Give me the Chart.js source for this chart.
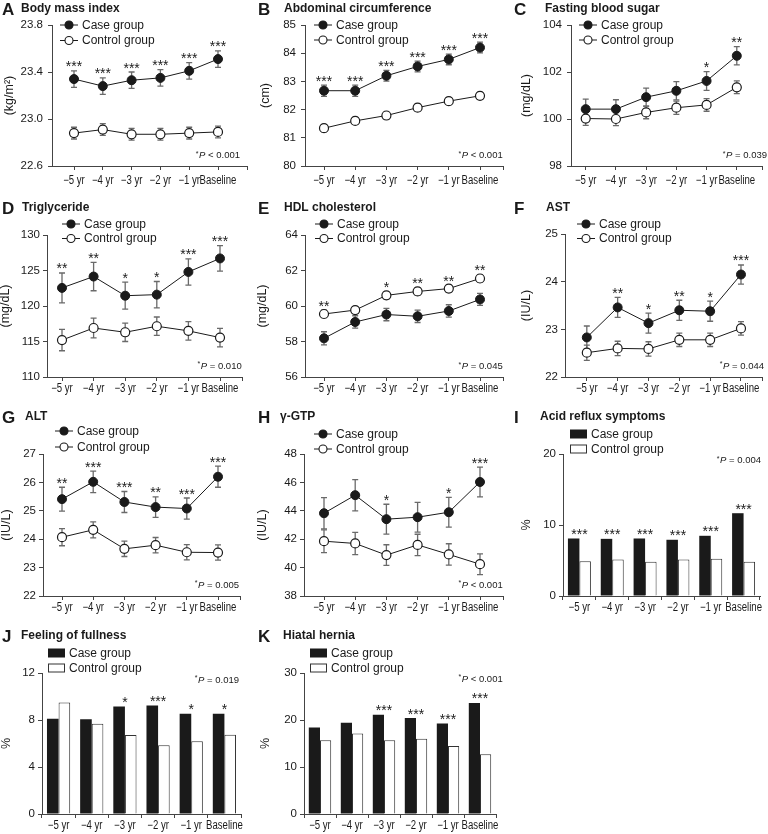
<!DOCTYPE html>
<html><head><meta charset="utf-8">
<script src="https://cdn.jsdelivr.net/npm/chart.js@4.4.1/dist/chart.umd.min.js"></script>
<style>
html,body{margin:0;padding:0;background:#fff;}
#wrap{position:relative;width:768px;height:834px;overflow:hidden;background:#fff;}
#wrap canvas{position:absolute;}
</style>
</head><body><div id="wrap"></div>
<script>
// ---------------- DATA ----------------
const categories = ['\u22125 yr', '\u22124 yr', '\u22123 yr', '\u22122 yr', '\u22121 yr', 'Baseline'];

// A Body mass index
const bmiCase = [23.34, 23.28, 23.33, 23.35, 23.41, 23.51];
const bmiCaseSE = [0.07, 0.07, 0.07, 0.07, 0.07, 0.07];
const bmiCtrl = [22.88, 22.91, 22.87, 22.87, 22.88, 22.89];
const bmiCtrlSE = [0.05, 0.05, 0.05, 0.05, 0.05, 0.05];
const bmiSig = ['***', '***', '***', '***', '***', '***'];
const bmiTicks = [22.6, 23.0, 23.4, 23.8];
const bmiP = '< 0.001';

// B Abdominal circumference
const acCase = [82.67, 82.67, 83.2, 83.53, 83.78, 84.2];
const acCaseSE = [0.2, 0.2, 0.19, 0.19, 0.19, 0.19];
const acCtrl = [81.34, 81.6, 81.79, 82.07, 82.3, 82.49];
const acCtrlSE = [0.13, 0.12, 0.12, 0.12, 0.12, 0.12];
const acSig = ['***', '***', '***', '***', '***', '***'];
const acTicks = [80, 81, 82, 83, 84, 85];
const acP = '< 0.001';

// C Fasting blood sugar
const fbsCase = [100.42, 100.42, 100.93, 101.2, 101.62, 102.69];
const fbsCaseSE = [0.43, 0.4, 0.38, 0.39, 0.4, 0.39];
const fbsCtrl = [100.02, 100.0, 100.28, 100.48, 100.6, 101.35];
const fbsCtrlSE = [0.29, 0.28, 0.27, 0.28, 0.27, 0.27];
const fbsSig = ['', '', '', '', '*', '**'];
const fbsTicks = [98, 100, 102, 104];
const fbsP = '= 0.039';

// D Triglyceride
const tgCase = [122.55, 124.15, 121.45, 121.6, 124.8, 126.7];
const tgCaseSE = [2.1, 2.0, 1.9, 1.85, 1.85, 1.8];
const tgCtrl = [115.2, 116.9, 116.3, 117.15, 116.5, 115.55];
const tgCtrlSE = [1.5, 1.4, 1.3, 1.3, 1.3, 1.3];
const tgSig = ['**', '**', '*', '*', '***', '***'];
const tgTicks = [110, 115, 120, 125, 130];
const tgP = '= 0.010';

// E HDL cholesterol
const hdlCase = [58.18, 59.1, 59.52, 59.42, 59.72, 60.37];
const hdlCaseSE = [0.37, 0.35, 0.35, 0.35, 0.35, 0.34];
const hdlCtrl = [59.55, 59.77, 60.6, 60.82, 60.98, 61.55];
const hdlCtrlSE = [0.21, 0.2, 0.2, 0.2, 0.2, 0.2];
const hdlSig = ['**', '', '*', '**', '**', '**'];
const hdlTicks = [56, 58, 60, 62, 64];
const hdlP = '= 0.045';

// F AST
const astCase = [22.83, 23.46, 23.13, 23.40, 23.38, 24.15];
const astCaseSE = [0.24, 0.21, 0.21, 0.21, 0.21, 0.2];
const astCtrl = [22.51, 22.60, 22.59, 22.78, 22.78, 23.02];
const astCtrlSE = [0.16, 0.15, 0.15, 0.14, 0.14, 0.14];
const astSig = ['', '**', '*', '**', '*', '***'];
const astTicks = [22, 23, 24, 25];
const astP = '= 0.044';

// G ALT
const altCase = [25.41, 26.02, 25.31, 25.13, 25.08, 26.2];
const altCaseSE = [0.42, 0.38, 0.37, 0.36, 0.37, 0.37];
const altCtrl = [24.07, 24.33, 23.66, 23.79, 23.54, 23.53];
const altCtrlSE = [0.3, 0.28, 0.27, 0.27, 0.27, 0.27];
const altSig = ['**', '***', '***', '**', '***', '***'];
const altTicks = [22, 23, 24, 25, 26, 27];
const altP = '= 0.005';

// H gamma-GTP
const gtpCase = [43.83, 45.1, 43.41, 43.55, 43.9, 46.03];
const gtpCaseSE = [1.1, 1.1, 1.05, 1.05, 1.05, 1.05];
const gtpCtrl = [41.86, 41.7, 40.88, 41.6, 40.93, 40.24];
const gtpCtrlSE = [0.8, 0.78, 0.73, 0.75, 0.75, 0.73];
const gtpSig = ['', '', '*', '', '*', '***'];
const gtpTicks = [38, 40, 42, 44, 46, 48];
const gtpP = '< 0.001';

// I Acid reflux symptoms (%)
const refluxCase = [8.1, 8.05, 8.1, 7.92, 8.48, 11.66];
const refluxCtrl = [4.9, 5.15, 4.82, 5.15, 5.25, 4.82];
const refluxSig = ['***', '***', '***', '***', '***', '***'];
const refluxTicks = [0, 10, 20];
const refluxP = '= 0.004';

// J Feeling of fullness (%)
const fullCase = [8.1, 8.07, 9.15, 9.24, 8.53, 8.53];
const fullCtrl = [9.49, 7.68, 6.72, 5.85, 6.19, 6.75];
const fullSig = ['', '', '*', '***', '*', '*'];
const fullTicks = [0, 4, 8, 12];
const fullP = '= 0.019';

// K Hiatal hernia (%)
const herniaCase = [18.4, 19.4, 21.1, 20.4, 19.26, 23.64];
const herniaCtrl = [15.67, 17.15, 15.67, 16.0, 14.46, 12.7];
const herniaSig = ['', '', '***', '***', '***', '***'];
const herniaTicks = [0, 10, 20, 30];
const herniaP = '< 0.001';

// ---------------- PANELS ----------------
const panels = [
  {type:'line', letter:'A', title:'Body mass index', yTitle:'(kg/m\u00B2)', yTicks:bmiTicks, dec:1, caseV:bmiCase, caseE:bmiCaseSE, ctrlV:bmiCtrl, ctrlE:bmiCtrlSE, sig:bmiSig, pText:bmiP},
  {type:'line', letter:'B', title:'Abdominal circumference', yTitle:'(cm)', yTicks:acTicks, dec:0, caseV:acCase, caseE:acCaseSE, ctrlV:acCtrl, ctrlE:acCtrlSE, sig:acSig, pText:acP},
  {type:'line', letter:'C', title:'Fasting blood sugar', yTitle:'(mg/dL)', yTicks:fbsTicks, dec:0, caseV:fbsCase, caseE:fbsCaseSE, ctrlV:fbsCtrl, ctrlE:fbsCtrlSE, sig:fbsSig, pText:fbsP},
  {type:'line', letter:'D', title:'Triglyceride', yTitle:'(mg/dL)', yTicks:tgTicks, dec:0, caseV:tgCase, caseE:tgCaseSE, ctrlV:tgCtrl, ctrlE:tgCtrlSE, sig:tgSig, pText:tgP},
  {type:'line', letter:'E', title:'HDL cholesterol', yTitle:'(mg/dL)', yTicks:hdlTicks, dec:0, caseV:hdlCase, caseE:hdlCaseSE, ctrlV:hdlCtrl, ctrlE:hdlCtrlSE, sig:hdlSig, pText:hdlP},
  {type:'line', letter:'F', title:'AST', yTitle:'(IU/L)', yTicks:astTicks, dec:0, caseV:astCase, caseE:astCaseSE, ctrlV:astCtrl, ctrlE:astCtrlSE, sig:astSig, pText:astP},
  {type:'line', letter:'G', title:'ALT', yTitle:'(IU/L)', yTicks:altTicks, dec:0, caseV:altCase, caseE:altCaseSE, ctrlV:altCtrl, ctrlE:altCtrlSE, sig:altSig, pText:altP},
  {type:'line', letter:'H', title:'\u03B3-GTP', yTitle:'(IU/L)', yTicks:gtpTicks, dec:0, caseV:gtpCase, caseE:gtpCaseSE, ctrlV:gtpCtrl, ctrlE:gtpCtrlSE, sig:gtpSig, pText:gtpP},
  {type:'bar', letter:'I', title:'Acid reflux symptoms', yTitle:'%', yTicks:refluxTicks, dec:0, caseV:refluxCase, ctrlV:refluxCtrl, sig:refluxSig, pText:refluxP},
  {type:'bar', letter:'J', title:'Feeling of fullness', yTitle:'%', yTicks:fullTicks, dec:0, caseV:fullCase, ctrlV:fullCtrl, sig:fullSig, pText:fullP},
  {type:'bar', letter:'K', title:'Hiatal hernia', yTitle:'%', yTicks:herniaTicks, dec:0, caseV:herniaCase, ctrlV:herniaCtrl, sig:herniaSig, pText:herniaP}
];

// layout (page pixel geometry, separate from data)
const layouts = {
  A:{box:[0,0,256,205],     area:[52,25,247,166],  x0:74,  x5:218, xpad:5, ypad:5, title:[2,21,9],     ytx:10,  legend:[69,25,40.5],   p:[240,155.7]},
  B:{box:[256,0,256,205],   area:[305,25,503,166], x0:324, x5:480, xpad:5, ypad:5, title:[258,284,9],  ytx:266, legend:[323,25,40],    p:[502.7,155.7]},
  C:{box:[512,0,256,205],   area:[571,25,766,166], x0:586, x5:740, xpad:5, ypad:5, title:[514,545,9],  ytx:527, legend:[588,25,40],    p:[767,155.7]},
  D:{box:[0,195,256,220],   area:[47,235,242,377], x0:62,  x5:220, xpad:2, ypad:3, title:[2,22,208],   ytx:6,   legend:[71,224,238.5], p:[241.7,366]},
  E:{box:[256,195,256,220], area:[305,235,503,377],x0:324, x5:480, xpad:2, ypad:3, title:[258,284,208], ytx:263, legend:[324,224,238.5],p:[502.7,366.7]},
  F:{box:[512,195,256,220], area:[565,234,764,377],x0:587, x5:742.5,xpad:2,ypad:3, title:[514,546,208], ytx:527, legend:[586,224,238.5],p:[764,366]},
  G:{box:[0,403,256,222],   area:[43,454,240,596], x0:62,  x5:218, xpad:2, ypad:3, title:[2,25,417],   ytx:7,   legend:[64,431,447],   p:[239,585]},
  H:{box:[256,403,256,222], area:[304,454,503,596],x0:324, x5:480, xpad:2, ypad:3, title:[258,280,417], ytx:263, legend:[323,434,449],  p:[502.7,585]},
  I:{box:[512,403,256,222], area:[563,454,760,596], xpad:2, ypad:3, title:[514,540,417], ytx:527, legend:[570,434,449], p:[761,460.7]},
  J:{box:[0,620,256,214],   area:[42,673,241,814],  xpad:2, ypad:3, title:[2,21,636],    ytx:7,   legend:[48,653,668],  p:[239,680]},
  K:{box:[256,620,256,214], area:[304,673,496,814], xpad:2, ypad:3, title:[258,283,636], ytx:266, legend:[310,653,668], p:[502.7,679]}
};

// ---------------- RENDER ----------------
const FONT = '"Liberation Sans", Arial, Helvetica, sans-serif';
const INK = '#1a1a1a', AXIS = '#444', ERR = '#6a6a6a';
const XSIZE = 12, XSQUEEZE = 0.8;   // condensed category labels
Chart.defaults.font.family = FONT;
Chart.defaults.color = INK;

function addCanvas(box) {
  const c = document.createElement('canvas');
  c.width = box[2]; c.height = box[3];
  c.style.left = box[0] + 'px'; c.style.top = box[1] + 'px';
  c.style.width = box[2] + 'px'; c.style.height = box[3] + 'px';
  document.getElementById('wrap').appendChild(c);
  return c;
}

const errorBars = {
  id: 'errorBars',
  beforeDatasetsDraw(chart) {
    const ctx = chart.ctx, xs = chart.scales.x, ys = chart.scales.y;
    ctx.save();
    ctx.strokeStyle = ERR; ctx.lineWidth = 1.3;
    chart.data.datasets.forEach(ds => {
      if (!ds.err) return;
      ds.data.forEach((pt, i) => {
        const px = xs.getPixelForValue(pt.x);
        const t = ys.getPixelForValue(pt.y + ds.err[i]);
        const b = ys.getPixelForValue(pt.y - ds.err[i]);
        ctx.beginPath();
        ctx.moveTo(px, t); ctx.lineTo(px, b);
        ctx.moveTo(px - 3, t); ctx.lineTo(px + 3, t);
        ctx.moveTo(px - 3, b); ctx.lineTo(px + 3, b);
        ctx.stroke();
      });
    });
    ctx.restore();
  }
};

function drawP(ctx, txt, rx, cy) {
  const fMain = '9.5px ' + FONT, fIt = 'italic 9.5px ' + FONT, fSup = '7px ' + FONT;
  ctx.font = fMain; const w3 = ctx.measureText(' ' + txt).width;
  ctx.font = fIt; const w2 = ctx.measureText('P').width;
  ctx.font = fSup; const w1 = ctx.measureText('*').width + 0.5;
  let x = rx - (w1 + w2 + w3);
  ctx.textAlign = 'left'; ctx.textBaseline = 'middle';
  ctx.font = fSup; ctx.fillText('*', x, cy - 2);
  ctx.font = fIt; ctx.fillText('P', x + w1, cy);
  ctx.font = fMain; ctx.fillText(' ' + txt, x + w1 + w2, cy);
}

function decor(p, L) {
  return {
    id: 'decor',
    afterDraw(chart) {
      const ctx = chart.ctx, ox = L.box[0], oy = L.box[1];
      const ca = chart.chartArea, xs = chart.scales.x, ys = chart.scales.y;
      ctx.save();
      ctx.fillStyle = INK; ctx.textAlign = 'left'; ctx.textBaseline = 'middle';
      // letter + title
      ctx.font = 'bold 17px ' + FONT;
      ctx.fillText(p.letter, L.title[0] - ox, L.title[2] - oy + 1);
      ctx.font = 'bold 12px ' + FONT;
      ctx.fillText(p.title, L.title[1] - ox, L.title[2] - oy);
      // category labels (condensed), positioned by the x scale
      ctx.font = XSIZE + 'px ' + FONT; ctx.textAlign = 'center'; ctx.textBaseline = 'top';
      categories.forEach((c, i) => {
        ctx.save();
        ctx.translate(xs.getPixelForValue(i), ca.bottom + 4 + L.xpad);
        ctx.scale(XSQUEEZE, 1);
        ctx.fillText(c, 0, 0);
        ctx.restore();
      });
      // y title
      ctx.save();
      ctx.translate(L.ytx - ox, (ca.top + ca.bottom) / 2);
      ctx.rotate(-Math.PI / 2);
      ctx.textAlign = 'center'; ctx.textBaseline = 'middle';
      ctx.font = '12.5px ' + FONT;
      ctx.fillText(p.yTitle, 0, 0);
      ctx.restore();
      // legend
      ctx.textAlign = 'left'; ctx.textBaseline = 'middle';
      const names = ['Case group', 'Control group'];
      const ys2 = [L.legend[1] - oy, L.legend[2] - oy];
      ctx.font = '12px ' + FONT;
      if (p.type === 'line') {
        const cx = L.legend[0] - ox;
        for (let k = 0; k < 2; k++) {
          ctx.strokeStyle = INK; ctx.lineWidth = 1;
          ctx.beginPath(); ctx.moveTo(cx - 9, ys2[k]); ctx.lineTo(cx + 9, ys2[k]); ctx.stroke();
          ctx.beginPath(); ctx.arc(cx, ys2[k], 4, 0, Math.PI * 2);
          ctx.fillStyle = k === 0 ? INK : '#fff'; ctx.fill();
          ctx.lineWidth = 1.1; ctx.stroke();
          ctx.fillStyle = INK;
          ctx.fillText(names[k], cx + 13, ys2[k] + 0.5);
        }
      } else {
        const lx = L.legend[0] - ox;
        for (let k = 0; k < 2; k++) {
          if (k === 0) { ctx.fillStyle = INK; ctx.fillRect(lx, ys2[k] - 4.5, 17, 9); }
          else { ctx.fillStyle = '#fff'; ctx.fillRect(lx, ys2[k] - 4.5, 17, 9); ctx.strokeStyle = '#333'; ctx.lineWidth = 1; ctx.strokeRect(lx + 0.5, ys2[k] - 4, 16, 8); }
          ctx.fillStyle = INK;
          ctx.fillText(names[k], lx + 21, ys2[k] + 0.5);
        }
      }
      // significance marks
      ctx.font = '14px ' + FONT; ctx.textAlign = 'center'; ctx.textBaseline = 'alphabetic'; ctx.fillStyle = INK;
      p.sig.forEach((s, i) => {
        if (!s) return;
        let top;
        if (p.type === 'line') {
          top = Math.min(ys.getPixelForValue(p.caseV[i] + p.caseE[i]), ys.getPixelForValue(p.ctrlV[i] + p.ctrlE[i]));
        } else {
          top = Math.min(ys.getPixelForValue(p.caseV[i]), ys.getPixelForValue(p.ctrlV[i]));
        }
        ctx.fillText(s, xs.getPixelForValue(i), top + 0.5);
      });
      // p value
      drawP(ctx, p.pText, L.p[0] - ox, L.p[1] - oy);
      ctx.restore();
    }
  };
}

function yScale(p, L) {
  return {
    type: 'linear',
    min: p.yTicks[0], max: p.yTicks[p.yTicks.length - 1],
    afterBuildTicks: s => { s.ticks = p.yTicks.map(v => ({ value: v })); },
    afterFit: s => { s.width = L.area[0] - L.box[0]; },
    ticks: { callback: v => Number(v).toFixed(p.dec), color: INK, font: { size: 11.5 }, padding: L.ypad },
    grid: { drawOnChartArea: false, drawTicks: true, tickLength: 4, color: AXIS, lineWidth: 1 },
    border: { display: true, color: AXIS, width: 1 }
  };
}

function baseOptions(L) {
  return {
    responsive: false, animation: false, devicePixelRatio: 1,
    events: [],
    layout: { padding: { left: 0, top: L.area[1] - L.box[1], right: L.box[0] + L.box[2] - L.area[2], bottom: 0 } },
    plugins: { legend: { display: false }, tooltip: { enabled: false }, title: { display: false } }
  };
}

function linePanel(p, L) {
  const canvas = addCanvas(L.box);
  const sp = (L.x5 - L.x0) / 5;
  const xmin = -(L.x0 - L.area[0]) / sp, xmax = 5 + (L.area[2] - L.x5) / sp;
  const opts = baseOptions(L);
  opts.scales = {
    x: {
      type: 'linear', min: xmin, max: xmax,
      afterBuildTicks: s => { s.ticks = categories.map((c, i) => ({ value: i })).concat([{ value: xmax }]); },
      afterFit: s => { s.height = L.box[1] + L.box[3] - L.area[3]; },
      ticks: { display: false, autoSkip: false, maxRotation: 0, minRotation: 0 },
      grid: { drawOnChartArea: false, drawTicks: true, tickLength: 4, color: AXIS, lineWidth: 1 },
      border: { display: true, color: AXIS, width: 1 }
    },
    y: yScale(p, L)
  };
  new Chart(canvas, {
    type: 'line',
    data: {
      datasets: [
        { label: 'Case group', data: p.caseV.map((v, i) => ({ x: i, y: v })), err: p.caseE,
          borderColor: INK, borderWidth: 1, tension: 0, pointRadius: 4.5, pointBackgroundColor: INK, pointBorderColor: INK, pointBorderWidth: 1 },
        { label: 'Control group', data: p.ctrlV.map((v, i) => ({ x: i, y: v })), err: p.ctrlE,
          borderColor: INK, borderWidth: 1, tension: 0, pointRadius: 4.5, pointBackgroundColor: '#fff', pointBorderColor: INK, pointBorderWidth: 1.2 }
      ]
    },
    options: opts,
    plugins: [errorBars, decor(p, L)]
  });
}

function barPanel(p, L) {
  const canvas = addCanvas(L.box);
  const opts = baseOptions(L);
  opts.scales = {
    x: {
      type: 'category', offset: true,
      afterFit: s => { s.height = L.box[1] + L.box[3] - L.area[3]; },
      ticks: { display: false, autoSkip: false, maxRotation: 0, minRotation: 0 },
      grid: { offset: true, drawOnChartArea: false, drawTicks: true, tickLength: 4, color: AXIS, lineWidth: 1 },
      border: { display: true, color: AXIS, width: 1 }
    },
    y: yScale(p, L)
  };
  new Chart(canvas, {
    type: 'bar',
    data: {
      labels: categories,
      datasets: [
        { label: 'Case group', data: p.caseV, backgroundColor: INK, borderColor: INK, borderWidth: 0, categoryPercentage: 0.7, barPercentage: 1 },
        { label: 'Control group', data: p.ctrlV, backgroundColor: '#fff', borderColor: '#333', borderWidth: 1, categoryPercentage: 0.7, barPercentage: 1 }
      ]
    },
    options: opts,
    plugins: [decor(p, L)]
  });
}

panels.forEach(p => {
  const L = layouts[p.letter];
  if (p.type === 'line') linePanel(p, L); else barPanel(p, L);
});
</script>
</body></html>
